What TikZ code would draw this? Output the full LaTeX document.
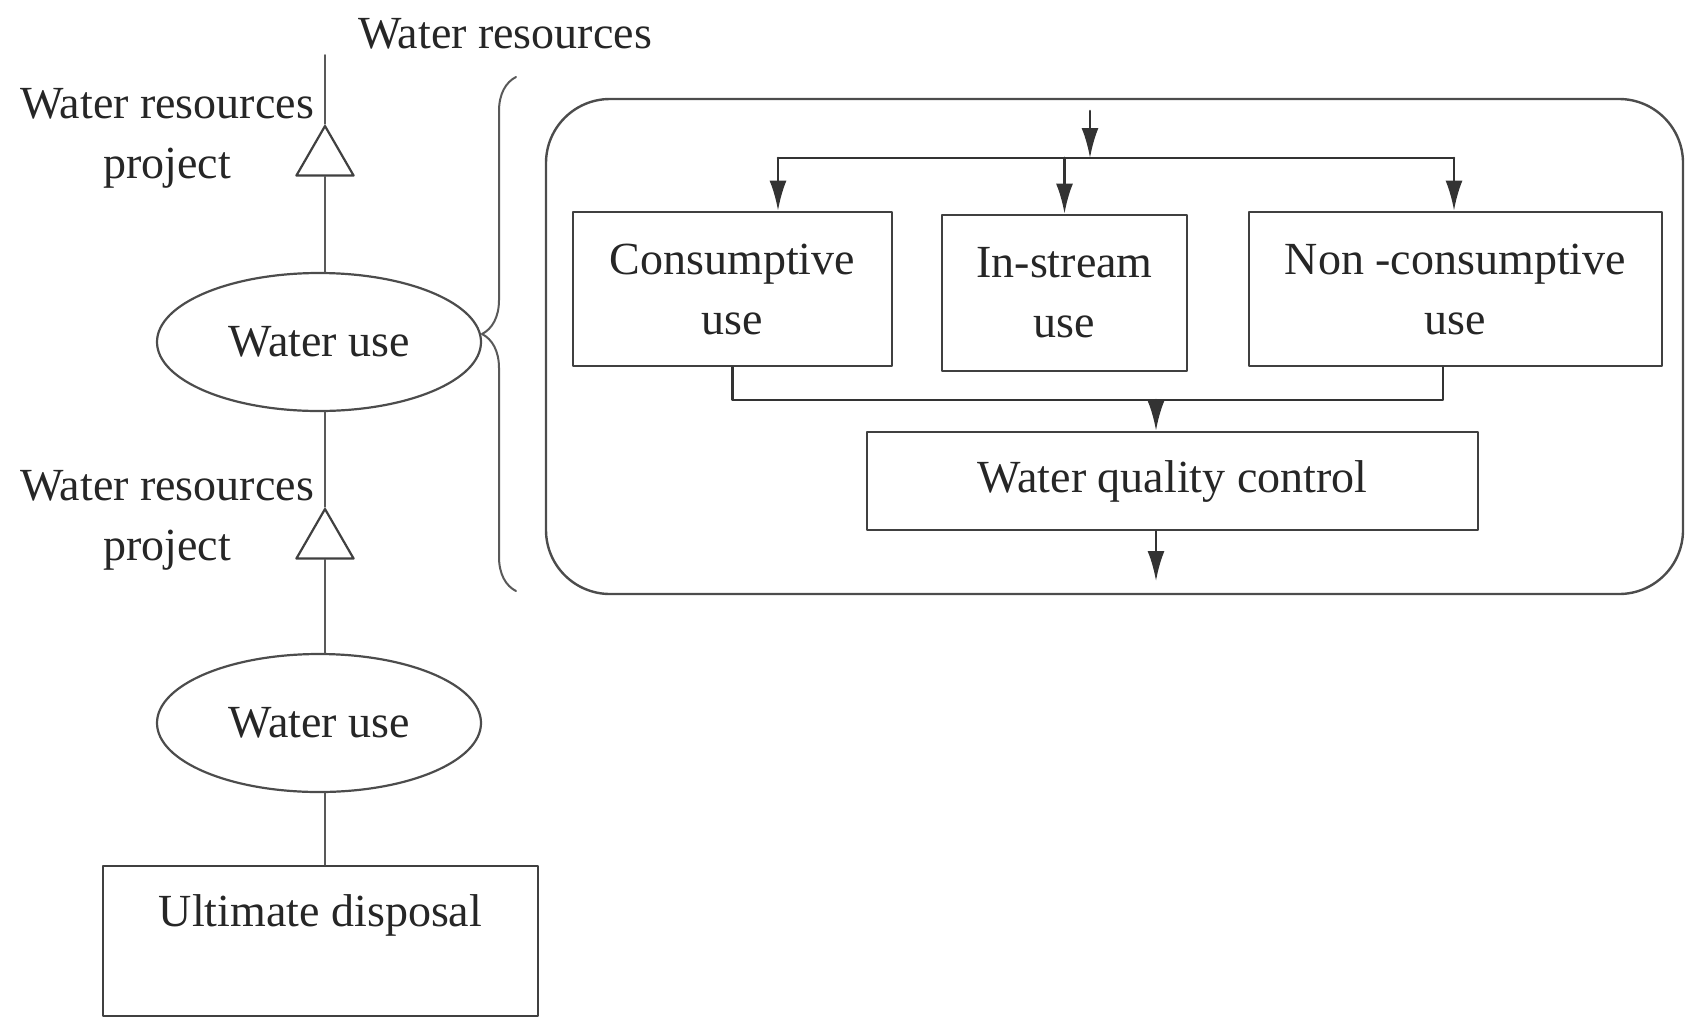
\documentclass[tikz,border=0pt]{standalone}
\usepackage{fontspec}
\setmainfont{Liberation Serif}
\usetikzlibrary{arrows.meta,shapes.geometric,decorations.pathreplacing,positioning}

\begin{document}
\begin{tikzpicture}[
  x=0.5pt, y=-0.5pt,
  >={Latex[length=15pt,width=8.5pt]},
  line cap=round,
  line join=round,
  every node/.style={font=\fontsize{23}{30}\selectfont, text=black!85},
  usebox/.style={draw=black!75, line width=1.4pt, inner sep=0pt, align=center},
  useoval/.style={ellipse, draw=black!70, line width=1.1pt, minimum width=162pt, minimum height=69pt, inner sep=0pt},
  projtri/.style={regular polygon, regular polygon sides=3, draw=black!75, line width=1.1pt, minimum size=33pt, inner sep=0pt},
  flow/.style={draw=black!80, line width=1.3pt},
  spine/.style={draw=black!65, line width=1pt}
]
  \useasboundingbox (0,0) rectangle (1686,1018);

  % Left chain: source -> project -> use -> project -> use -> disposal
  \coordinate (src) at (325,55);
  \node[anchor=west] (wres) at (351,34) {Water resources};
  \node[projtri] (proj1) at (325,159) {};
  \node[align=center] (proj1lbl) at (167,138) {Water resources\\project};
  \node[useoval] (use1) at (319,342) {Water use};
  \node[projtri] (proj2) at (325,542) {};
  \node[align=center] (proj2lbl) at (167,520) {Water resources\\project};
  \node[useoval] (use2) at (319,723) {Water use};
  \node[usebox, minimum width=217.5pt, minimum height=75pt] (disp) at (320.5,941) {Ultimate disposal\\\mbox{}};

  \draw[spine] (src) -- (proj1.north);
  \draw[spine] (proj1.south) -- (proj1.south |- use1.north);
  \draw[spine] (proj1.south |- use1.south) -- (proj2.north);
  \draw[spine] (proj2.south) -- (proj2.south |- use2.north);
  \draw[spine] (proj2.south |- use2.south) -- (proj2.south |- disp.north);

  % Brace opening the detail of water use
  \draw[spine, decorate, decoration={brace, amplitude=17pt}] (516,591) -- (516,77);

  % Detail frame
  \node[draw=black!70, line width=1.2pt, rounded corners=32pt,
        minimum width=568.5pt, minimum height=247.5pt] (frame) at (1114.5,346.5) {};

  \node[usebox, minimum width=159.5pt, minimum height=77pt] (cons)  at (732.5,289)  {Consumptive\\use};
  \node[usebox, minimum width=122.5pt, minimum height=78pt] (inst)  at (1064.5,293) {In-stream\\use};
  \node[usebox, minimum width=206.5pt, minimum height=77pt] (ncons) at (1455.5,289) {Non -consumptive\\use};
  \node[usebox, minimum width=305.5pt, minimum height=49pt] (wqc)   at (1172.5,481) {Water quality control};

  % Inflow split to the three uses
  \coordinate (in)    at (1090,111);
  \coordinate (split) at (1090,158);
  \coordinate (bar-l) at (778,158);
  \coordinate (bar-r) at (1454,158);
  \draw[flow, ->] (in) -- (split);
  \draw[flow] (bar-l) -- (bar-r);
  \draw[flow, ->] (bar-l) -- (bar-l |- cons.north);
  \draw[flow, ->] (inst.north |- bar-l) -- (inst.north);
  \draw[flow, ->] (bar-r) -- (bar-r |- ncons.north);

  % Return flows to quality control
  \coordinate (col-r) at (1443,400);
  \coordinate (join)  at (1156,400);
  \coordinate (out)   at (1156,581);
  \draw[flow] (cons.south) |- (col-r) -- (col-r |- ncons.south);
  \draw[flow, ->] (join) -- (join |- wqc.north);
  \draw[flow, ->] (join |- wqc.south) -- (out);
\end{tikzpicture}
\end{document}
